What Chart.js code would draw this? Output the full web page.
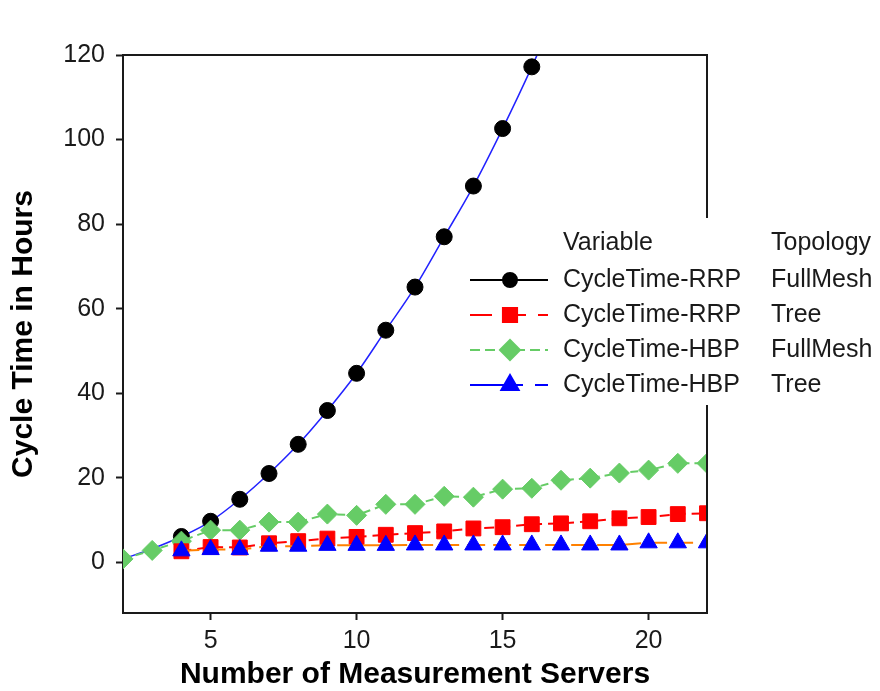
<!DOCTYPE html>
<html>
<head>
<meta charset="utf-8">
<title>Cycle Time in Hours</title>
<script src="https://cdn.jsdelivr.net/npm/chart.js@4.4.1/dist/chart.umd.min.js"></script>
<style>
  html, body { margin: 0; padding: 0; background: #fff; }
  #wrap { width: 880px; height: 691px; }
</style>
</head>
<body>
<div id="wrap"><canvas id="cycleChart" width="880" height="691"></canvas></div>
<script>
// number of measurement servers for each series
const serversAll = [2, 3, 4, 5, 6, 7, 8, 9, 10, 11, 12, 13, 14, 15, 16, 17, 18, 19, 20, 21, 22];
const serversFrom4 = [4, 5, 6, 7, 8, 9, 10, 11, 12, 13, 14, 15, 16, 17, 18, 19, 20, 21, 22];
const serversRrpFull = [4, 5, 6, 7, 8, 9, 10, 11, 12, 13, 14, 15, 16];
const serversFit = [2, 3, 4, 5, 6, 7, 8, 9, 10, 11, 12, 13, 14, 15, 16, 17];

// cycle time in hours
const rrpFullMesh = [6.1, 9.7, 14.9, 21.0, 27.9, 35.9, 44.7, 54.9, 65.1, 77.0, 89.0, 102.6, 117.2];
const rrpFullMeshFit = [0.8, 3.2, 6.1, 9.7, 14.9, 21.0, 27.9, 35.9, 44.7, 54.9, 65.1, 77.0, 89.0, 102.6, 117.2, 133.0];
const rrpTree = [2.6, 3.6, 3.5, 4.5, 5.0, 5.6, 6.0, 6.5, 6.9, 7.3, 8.0, 8.3, 9.0, 9.2, 9.7, 10.4, 10.7, 11.4, 11.6];
const hbpFullMesh = [0.8, 2.8, 5.0, 7.6, 7.6, 9.5, 9.5, 11.4, 11.1, 13.7, 13.7, 15.6, 15.4, 17.3, 17.5, 19.4, 19.9, 21.1, 21.8, 23.4, 23.4];
const hbpTree = [2.7, 3.0, 3.0, 3.8, 3.8, 4.0, 4.0, 4.0, 4.1, 4.1, 4.1, 4.1, 4.1, 4.1, 4.1, 4.1, 4.6, 4.6, 4.6];

const xTicks = [5, 10, 15, 20];
const yTicks = [0, 20, 40, 60, 80, 100, 120];

const legendHeaders = ["Variable", "Topology"];
const legendVariables = ["CycleTime-RRP", "CycleTime-RRP", "CycleTime-HBP", "CycleTime-HBP"];
const legendTopologies = ["FullMesh", "Tree", "FullMesh", "Tree"];

const FONT = "'Liberation Sans', Arial, sans-serif";
const INK = "#1a1a1a";

function toPoints(xs, ys) {
  return xs.map((x, i) => ({ x: x, y: ys[i] }));
}

// legend swatches, one per row
const swatches = [
  { line: "#000000", dash: [], marker: "#000000", style: "circle", r: 7 },
  { line: "#ff0000", dash: [22, 12], marker: "#ff0000", style: "rect", r: 10 },
  { line: "#66cc66", dash: [10, 5], marker: "#66cc66", style: "rectRot", r: 10 },
  { line: "#0000ff", dash: [53, 12, 13], marker: "#0000ff", style: "triangle", r: 10 }
];

// top/right frame lines
const boxFrame = {
  id: "boxFrame",
  afterDatasetsDraw(chart) {
    const { ctx, chartArea: a } = chart;
    ctx.save();
    ctx.strokeStyle = INK;
    ctx.lineWidth = 2;
    ctx.beginPath();
    ctx.moveTo(a.left, a.top);
    ctx.lineTo(a.right, a.top);
    ctx.lineTo(a.right, a.bottom);
    ctx.stroke();
    ctx.restore();
  }
};

// two-column legend sitting over the right edge
const tableLegend = {
  id: "tableLegend",
  afterDraw(chart) {
    const ctx = chart.ctx;
    const left = 470, right = 548, markX = 510;
    const col1 = 563, col2 = 771;
    const headY = 243, rowY = [280, 315, 350, 385];

    ctx.save();
    ctx.fillStyle = "#ffffff";
    ctx.fillRect(462, 218, 418, 187);

    ctx.font = "25px " + FONT;
    ctx.fillStyle = INK;
    ctx.textBaseline = "middle";
    ctx.textAlign = "left";
    ctx.fillText(legendHeaders[0], col1, headY);
    ctx.fillText(legendHeaders[1], col2, headY);

    legendVariables.forEach((name, i) => {
      const y = rowY[i];
      const s = swatches[i];
      ctx.strokeStyle = s.line;
      ctx.lineWidth = 2;
      ctx.setLineDash(s.dash);
      ctx.beginPath();
      ctx.moveTo(left, y);
      ctx.lineTo(right, y);
      ctx.stroke();
      ctx.setLineDash([]);

      ctx.fillStyle = s.marker;
      ctx.strokeStyle = s.marker;
      Chart.helpers.drawPoint(ctx, { pointStyle: s.style, radius: s.r, rotation: 0, borderWidth: 1 }, markX, y);

      ctx.fillStyle = INK;
      ctx.fillText(name, col1, y);
      ctx.fillText(legendTopologies[i], col2, y);
    });
    ctx.restore();
  }
};

const ctx = document.getElementById("cycleChart").getContext("2d");

const chart = new Chart(ctx, {
  type: "line",
  data: {
    datasets: [
      {
        label: "RRP FullMesh fit",
        data: toPoints(serversFit, rrpFullMeshFit),
        borderColor: "#2222ff",
        borderWidth: 1.5,
        pointRadius: 0,
        cubicInterpolationMode: "monotone",
        clip: 0,
        order: 5
      },
      {
        label: "CycleTime-RRP FullMesh",
        data: toPoints(serversRrpFull, rrpFullMesh),
        showLine: false,
        pointStyle: "circle",
        pointRadius: 8,
        pointBorderWidth: 1,
        backgroundColor: "#000000",
        borderColor: "#000000",
        clip: 0,
        order: 4
      },
      {
        label: "CycleTime-HBP FullMesh",
        data: toPoints(serversAll, hbpFullMesh),
        borderColor: "#66cc66",
        borderWidth: 2,
        borderDash: [8, 5],
        pointStyle: "rectRot",
        pointRadius: 10,
        pointBorderWidth: 1,
        pointBackgroundColor: "#66cc66",
        pointBorderColor: "#66cc66",
        clip: 0,
        order: 3
      },
      {
        label: "CycleTime-RRP Tree",
        data: toPoints(serversFrom4, rrpTree),
        borderColor: "#ff0000",
        borderWidth: 2,
        borderDash: [10, 6],
        pointStyle: "rect",
        pointRadius: 10.5,
        pointBorderWidth: 1,
        pointBackgroundColor: "#ff0000",
        pointBorderColor: "#ff0000",
        clip: 0,
        order: 2
      },
      {
        label: "CycleTime-HBP Tree",
        data: toPoints(serversFrom4, hbpTree),
        borderColor: "#ff8000",
        borderWidth: 2,
        borderDash: [18, 8],
        pointStyle: "triangle",
        pointRadius: 10,
        pointBorderWidth: 1,
        pointBackgroundColor: "#0000ff",
        pointBorderColor: "#0000ff",
        clip: 0,
        order: 1
      }
    ]
  },
  options: {
    responsive: false,
    animation: false,
    layout: { padding: { left: 0, top: 55, right: 173, bottom: 0 } },
    plugins: {
      legend: { display: false },
      tooltip: { enabled: false }
    },
    scales: {
      x: {
        type: "linear",
        min: 2,
        max: 22,
        afterFit: (scale) => { scale.height = 78; },
        afterBuildTicks: (scale) => { scale.ticks = xTicks.map(v => ({ value: v })); },
        grid: { drawOnChartArea: false, tickLength: 7, tickWidth: 2, tickColor: INK },
        border: { color: INK, width: 2 },
        ticks: { color: INK, padding: 6, font: { family: FONT, size: 25 } },
        title: {
          display: true,
          text: "Number of Measurement Servers",
          color: "#000",
          font: { family: FONT, size: 30, weight: "bold", lineHeight: 1 },
          padding: { top: 0, bottom: 1 }
        }
      },
      y: {
        min: -12,
        max: 120,
        afterFit: (scale) => { scale.width = 123; },
        afterBuildTicks: (scale) => { scale.ticks = yTicks.map(v => ({ value: v })); },
        grid: { drawOnChartArea: false, tickLength: 7, tickWidth: 2, tickColor: INK },
        border: { color: INK, width: 2 },
        ticks: { color: INK, padding: 11, font: { family: FONT, size: 25 } },
        title: {
          display: true,
          text: "Cycle Time in Hours",
          color: "#000",
          font: { family: FONT, size: 30, weight: "bold", lineHeight: 1 },
          padding: { top: 9, bottom: 0 }
        }
      }
    }
  },
  plugins: [boxFrame, tableLegend]
});
</script>
</body>
</html>
